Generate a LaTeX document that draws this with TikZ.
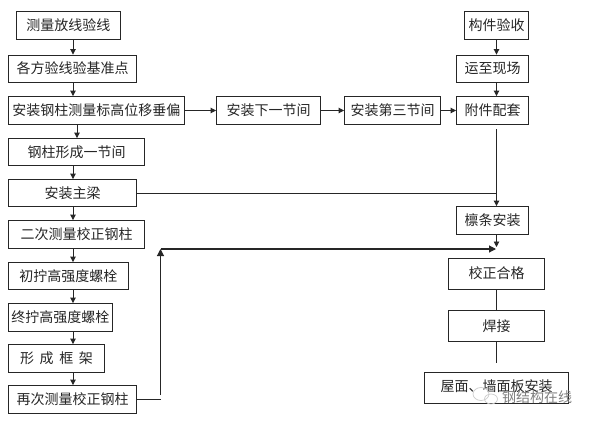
\documentclass[tikz,border=0pt]{standalone}
\usepackage{fontspec}
\setmainfont{Noto Sans CJK SC}
\usetikzlibrary{arrows.meta,calc}
\tikzset{
  flowbox/.style={draw=black!85,line width=0.9pt,inner sep=0pt,align=center,font=\fontsize{14}{15}\selectfont,text=black!85},
  link/.style={draw=black!85,line width=0.9pt},
  heavylink/.style={link,line width=1.1pt},
  arrowlink/.style={link,-{Triangle[length=5.5pt,width=5.5pt]}},
  bigarrow/.style={heavylink,-{Triangle[length=7pt,width=7pt]}},
  watermark/.style={font=\fontsize{14}{15}\selectfont,text=black!50,inner sep=0pt},
  bubble/.style={draw=black!20,line width=0.7pt},
}
% name, x1, y1, x2, y2, text
\newcommand{\flowbx}[6]{%
  \pgfmathsetmacro{\bw}{#4-#2}\pgfmathsetmacro{\bh}{#5-#3}%
  \node[flowbox,minimum width=\bw pt,minimum height=\bh pt] (#1) at ({(#2+#4)/2},{(#3+#5)/2}) {#6};}
\newcommand{\upby}[2]{\raisebox{#1pt}{#2}}
\begin{document}
\begin{tikzpicture}[x=1pt,y=-1pt]
\useasboundingbox (0,0) rectangle (589,421);
\fill[white] (0,0) rectangle (589,421);
\flowbx{a1}{16.5}{11.5}{120.5}{39}{测量放线验线}
\flowbx{a2}{8.5}{55}{136.5}{82}{各方验线验基准点}
\flowbx{a3}{8.5}{96.5}{184.5}{124.5}{安装钢柱测量标高位移垂偏}
\flowbx{a4}{8.5}{138.5}{144.5}{165}{钢柱形成一节间}
\flowbx{a5}{8.5}{179.5}{136.5}{206.5}{安装主梁}
\flowbx{a6}{8.5}{220.5}{144.5}{248}{二次测量校正钢柱}
\flowbx{a7}{8.5}{262.5}{128.5}{289}{初拧高强度螺栓}
\flowbx{a8}{8.5}{303.5}{112.5}{331}{终拧高强度螺栓}
\flowbx{a9}{8.5}{344.5}{104.5}{372}{形\hspace{0.4em}成\hspace{0.4em}框\hspace{0.4em}架}
\flowbx{a10}{8.5}{385.5}{136.5}{413}{再次测量校正钢柱}
\flowbx{n2}{216.5}{96.5}{320.5}{124.5}{安装下一节间}
\flowbx{n3}{344.5}{96.5}{440.5}{124.5}{安装第三节间}
\flowbx{r1}{464.5}{11.5}{528.5}{39}{构件验收}
\flowbx{r2}{456.5}{55}{528.5}{82}{运至现场}
\flowbx{r3}{456.5}{96.5}{528.5}{124.5}{\upby{2}{附件配套}}
\flowbx{r4}{456.5}{206.5}{528.5}{234.5}{\upby{1}{檩条安装}}
\flowbx{r5}{448.5}{258.5}{544.5}{289}{\upby{3}{校正合格}}
\flowbx{r6}{448.5}{310.5}{544.5}{341}{\upby{1}{焊接}}
\flowbx{r7}{424.5}{372.5}{568.5}{403.5}{\upby{4}{屋面、墙面板安装}}
% guide coordinates
\coordinate (xa) at (73,0);
\coordinate (xb) at (77,0);
\coordinate (xr) at (496.5,0);
\coordinate (r3free) at (496.5,129);
\coordinate (joinbeam) at (496.5,193);
\coordinate (r4end) at (496.5,247);
\coordinate (hend) at (496,249);
\coordinate (corner) at (160.5,249);
\coordinate (upstart) at (160.5,395);
\coordinate (a10end) at (160.5,399);
\coordinate (r6free) at (496.5,363);
% left column
\draw[arrowlink] (a1.south -| xa) -- (a2.north -| xa);
\draw[arrowlink] (a2.south -| xa) -- (a3.north -| xa);
\draw[arrowlink] (a3.south -| xb) -- (a4.north -| xb);
\draw[arrowlink] (a4.south -| xa) -- (a5.north -| xa);
\draw[arrowlink] (a5.south -| xa) -- (a6.north -| xa);
\draw[arrowlink] (a6.south -| xa) -- (a7.north -| xa);
\draw[arrowlink] (a7.south -| xa) -- (a8.north -| xa);
\draw[arrowlink] (a8.south -| xa) -- (a9.north -| xa);
\draw[arrowlink] (a9.south -| xa) -- (a10.north -| xa);
% top row
\draw[arrowlink] (a3.east) -- (n2.west);
\draw[arrowlink] (n2.east) -- (n3.west);
\draw[arrowlink] (n3.east) -- (r3.west);
% right column
\draw[arrowlink] (r1.south -| xr) -- (r2.north -| xr);
\draw[arrowlink] (r2.south -| xr) -- (r3.north -| xr);
\draw[heavylink,-{Triangle[length=5.5pt,width=5.5pt]}] (r3free) -- (r4.north -| xr);
\draw[link] (a5.east |- joinbeam) -- (joinbeam);
\draw[arrowlink] (r4.south -| xr) -- (r4end);
\draw[link] (r5.south -| xr) -- (r6.north -| xr);
\draw[link] (r6.south -| xr) -- (r6free);
% return line
\draw[link] (a10.east |- a10end) -- (a10end);
\draw[bigarrow] (upstart) -- (corner);
\draw[bigarrow] (corner) -- (hend);
% watermark
\draw[bubble] (481,394) ellipse (8 and 6.5);
\draw[bubble] (491,399) ellipse (6.5 and 5);
\node[watermark,anchor=west] (wm) at (502,397) {钢结构在线};
\end{tikzpicture}
\end{document}
